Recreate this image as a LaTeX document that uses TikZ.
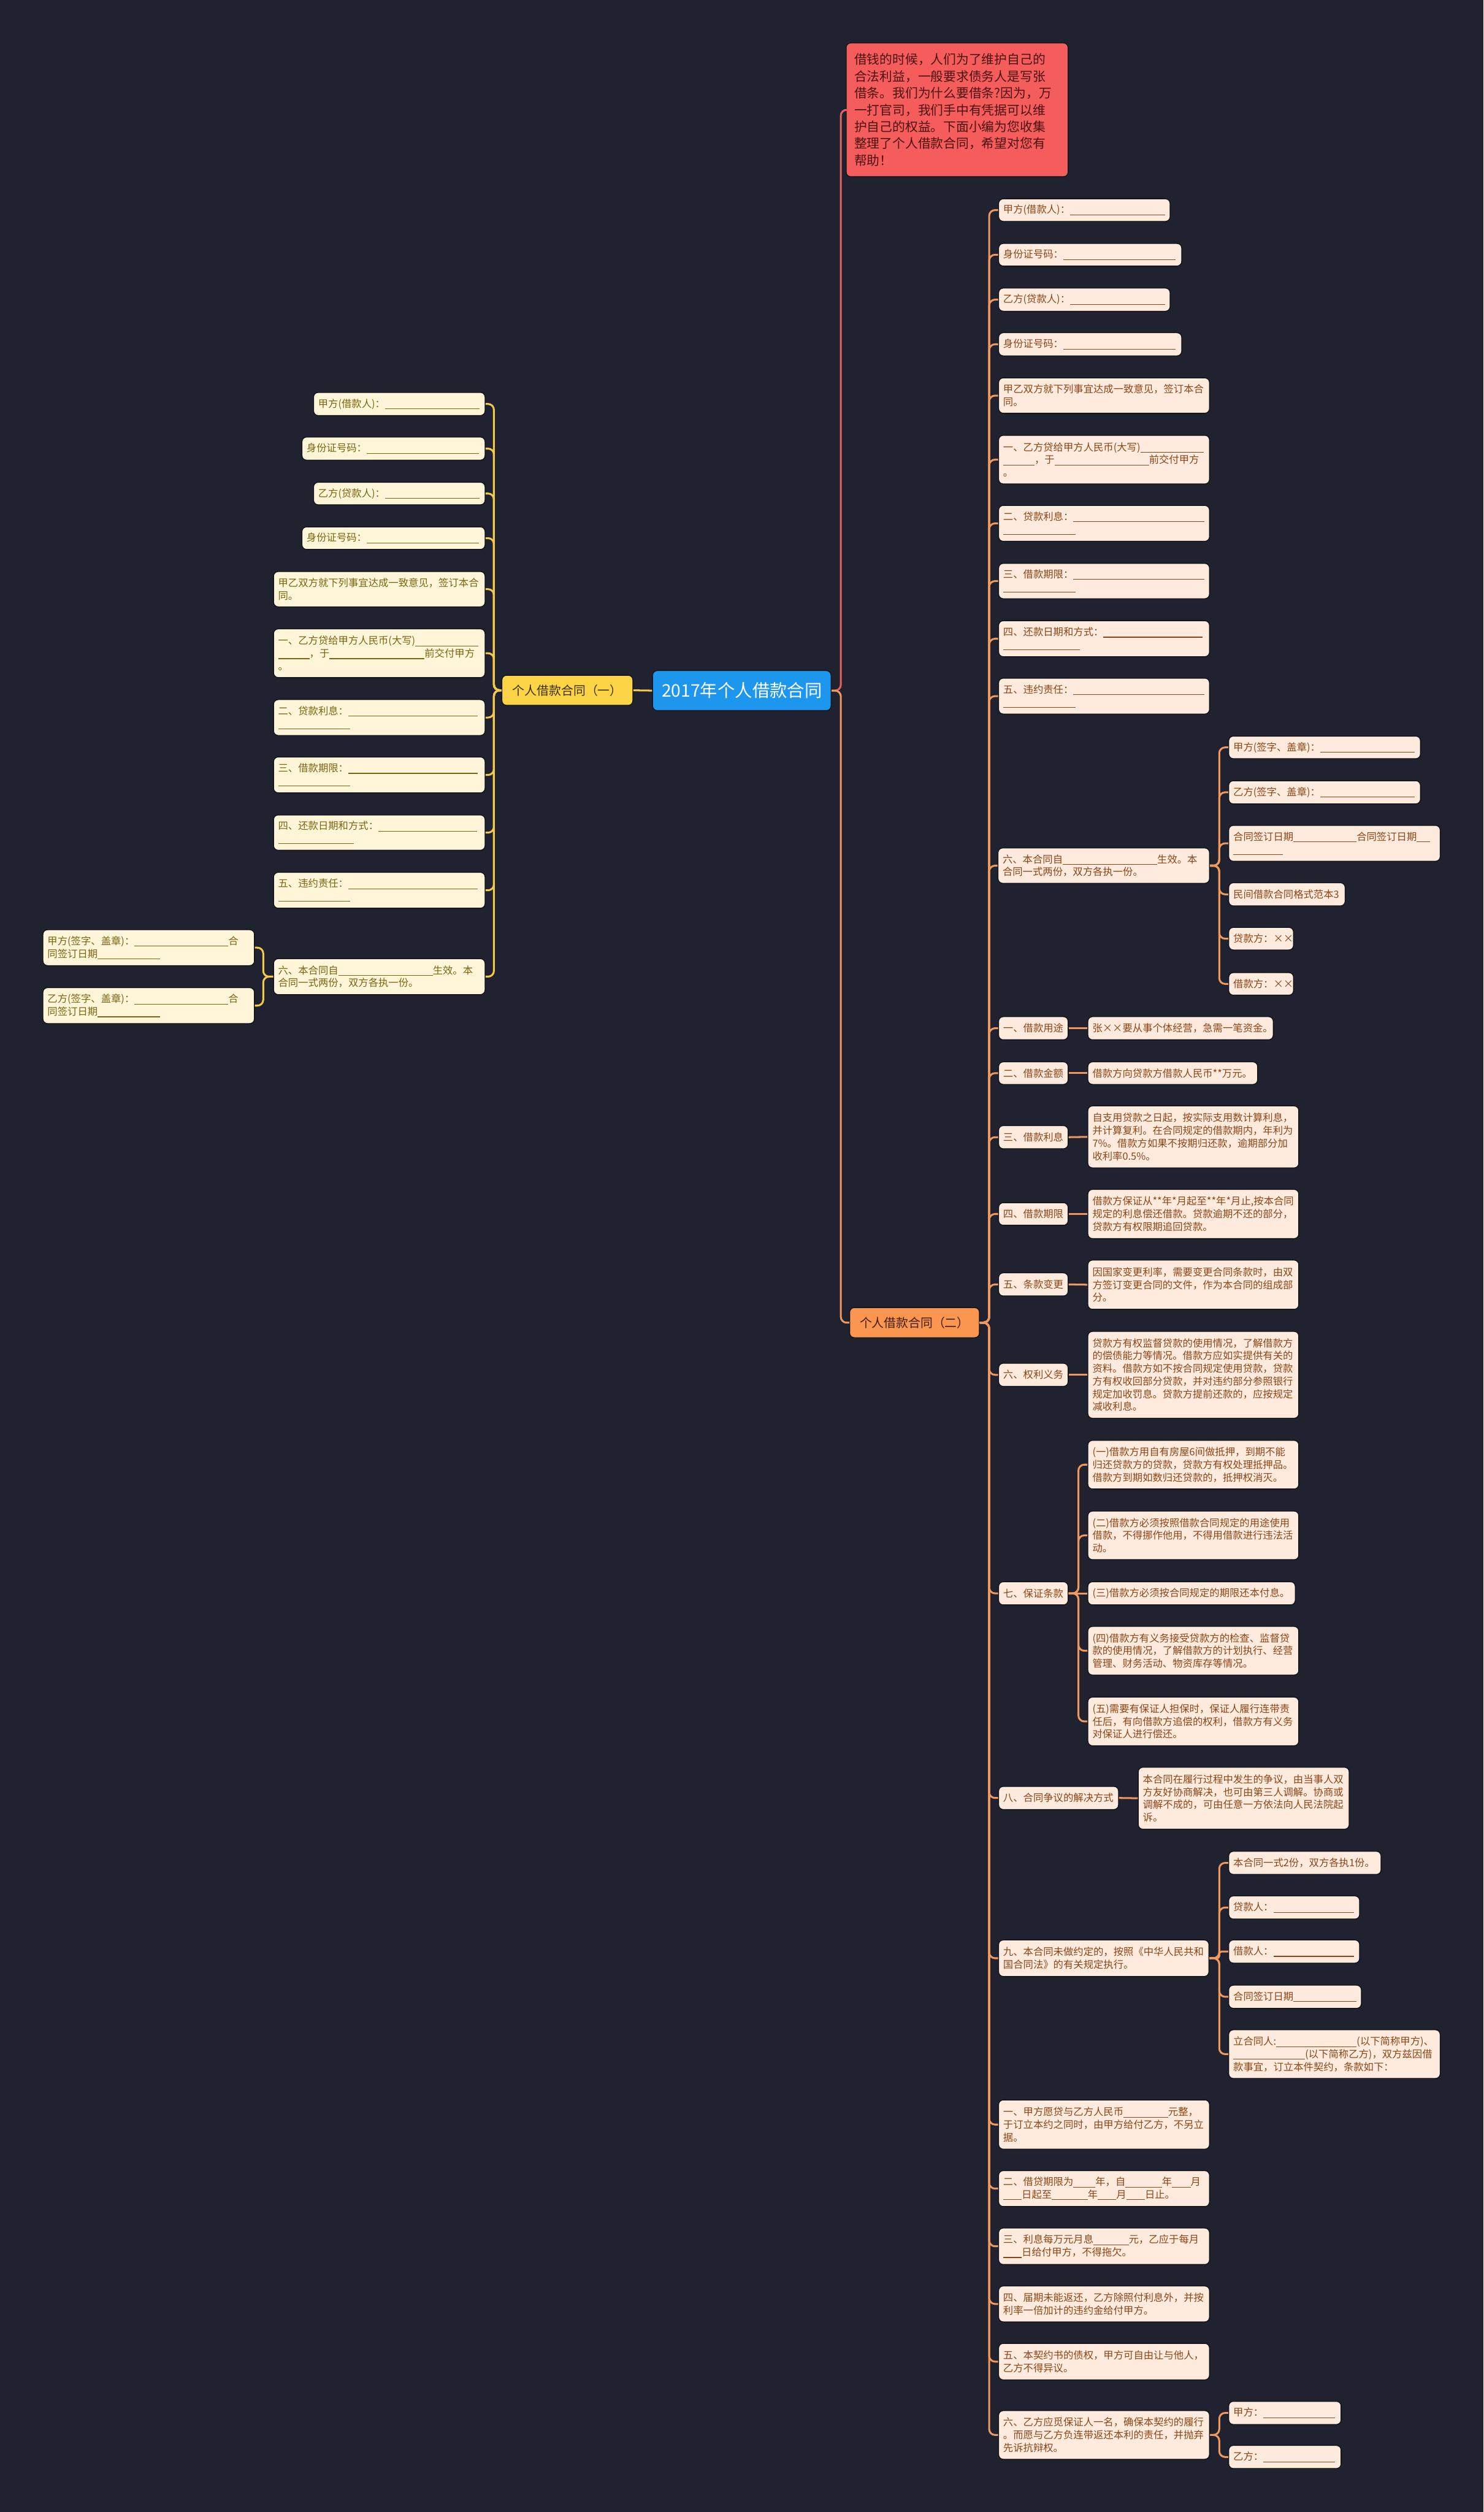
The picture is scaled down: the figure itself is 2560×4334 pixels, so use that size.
\documentclass[tikz,border=0pt]{standalone}
\usepackage{fontspec}
\setmainfont{Noto Sans CJK SC}
\definecolor{bg}{HTML}{20232F}
\definecolor{rootfill}{HTML}{1D97EE}
\definecolor{notefill}{HTML}{F55C5C}
\definecolor{notetext}{HTML}{4A1212}
\definecolor{bonefill}{HTML}{FDD446}
\definecolor{bonetext}{HTML}{3A2E00}
\definecolor{lonefill}{HTML}{FFF6D9}
\definecolor{lonetext}{HTML}{7A6410}
\definecolor{btwofill}{HTML}{FA9650}
\definecolor{btwotext}{HTML}{3D1F05}
\definecolor{ltwofill}{HTML}{FFEBDD}
\definecolor{ltwotext}{HTML}{8A4517}
\definecolor{conone}{HTML}{F3C94A}
\definecolor{contwo}{HTML}{F0995E}
\definecolor{conred}{HTML}{E56262}
\definecolor{edge}{HTML}{13151C}
\newcommand\bl[1]{\rule[-1.6pt]{\dimexpr #1pt/2\relax}{0.6pt}}
\newcommand\mmnode[7]{%
  \pgfmathsetmacro\ndw{(#5-#3)/2}%
  \pgfmathsetmacro\ndh{(#6-#4)/2}%
  \pgfmathsetmacro\ndt{(#5-#3)/2-8}%
  \node[#2, minimum width=\ndw pt, minimum height=\ndh pt, text width=\ndt pt] (#1) at ({(#3+#5)/2},{(#4+#6)/2}) {#7};%
}
\tikzset{
  base/.style={rounded corners=4pt, inner xsep=4pt, inner ysep=2pt, align=left,
    font=\fontsize{8.65}{11}\selectfont, draw=edge, line width=0.8pt},
  rootbox/.style={base, fill=rootfill, text=white, align=center, font=\fontsize{15}{18}\selectfont},
  notebox/.style={base, fill=notefill, text=notetext, inner xsep=7pt, font=\fontsize{11}{14.5}\selectfont},
  bonebox/.style={base, fill=bonefill, text=bonetext, align=center, font=\fontsize{10.5}{13}\selectfont},
  btwobox/.style={base, fill=btwofill, text=btwotext, align=center, font=\fontsize{10.5}{13}\selectfont},
  lone/.style={base, fill=lonefill, text=lonetext},
  ltwo/.style={base, fill=ltwofill, text=ltwotext},
  cone/.style={draw=conone, line width=1.6pt, rounded corners=5pt},
  ctwo/.style={draw=contwo, line width=1.6pt, rounded corners=5pt},
  cred/.style={draw=conred, line width=1.6pt, rounded corners=5pt},
}
\begin{document}
\begin{tikzpicture}[x=0.5pt,y=-0.5pt]
\fill[bg] (0,0) rectangle (2560,4334);
\useasboundingbox (0,0) rectangle (2560,4334);

% main nodes
\mmnode{root}{rootbox}{1126}{1157}{1434}{1226}{2017年个人借款合同}
\mmnode{note}{notebox}{1466}{74}{1837}{305}{借钱的时候，人们为了维护自己的\\合法利益，一般要求债务人是写张\\借条。我们为什么要借条?因为，万\\一打官司，我们手中有凭据可以维\\护自己的权益。下面小编为您收集\\整理了个人借款合同，希望对您有\\帮助！}
\mmnode{bone}{bonebox}{866}{1165}{1092}{1217}{个人借款合同（一）}
\mmnode{btwo}{btwobox}{1466}{2256}{1690}{2308}{个人借款合同（二）}

% left branch
\mmnode{L1}{lone}{541}{677}{837}{717}{甲方(借款人)：\bl{163}}
\mmnode{L2}{lone}{521}{754}{837}{794}{身份证号码：\bl{194}}
\mmnode{L3}{lone}{541}{832}{837}{871}{乙方(贷款人)：\bl{163}}
\mmnode{L4}{lone}{521}{909}{837}{948}{身份证号码：\bl{194}}
\mmnode{L5}{lone}{472}{986}{837}{1047}{甲乙双方就下列事宜达成一致意见，签订本合\\同。}
\mmnode{L6}{lone}{472}{1085}{837}{1169}{一、乙方贷给甲方人民币(大写)\bl{109}\\\bl{54}，于\bl{164}前交付甲方\\。}
\mmnode{L7}{lone}{472}{1207}{837}{1269}{二、贷款利息：\bl{223}\\\bl{124}}
\mmnode{L8}{lone}{472}{1306}{837}{1368}{三、借款期限：\bl{223}\\\bl{124}}
\mmnode{L9}{lone}{472}{1406}{837}{1467}{四、还款日期和方式：\bl{170}\\\bl{131}}
\mmnode{L10}{lone}{472}{1505}{837}{1567}{五、违约责任：\bl{223}\\\bl{124}}
\mmnode{L11}{lone}{472}{1654}{837}{1716}{六、本合同自\bl{163}生效。本\\合同一式两份，双方各执一份。}
\mmnode{L11a}{lone}{74}{1604}{439}{1666}{甲方(签字、盖章)：\bl{162}合\\同签订日期\bl{108}}
\mmnode{L11b}{lone}{74}{1704}{439}{1766}{乙方(签字、盖章)：\bl{162}合\\同签订日期\bl{108}}

% right branch
\mmnode{R1}{ltwo}{1723}{343}{2019}{382}{甲方(借款人)：\bl{164}}
\mmnode{R2}{ltwo}{1723}{420}{2039}{459}{身份证号码：\bl{194}}
\mmnode{R3}{ltwo}{1723}{497}{2019}{537}{乙方(贷款人)：\bl{164}}
\mmnode{R4}{ltwo}{1723}{574}{2039}{614}{身份证号码：\bl{194}}
\mmnode{R5}{ltwo}{1723}{652}{2087}{713}{甲乙双方就下列事宜达成一致意见，签订本合\\同。}
\mmnode{R6}{ltwo}{1723}{751}{2087}{835}{一、乙方贷给甲方人民币(大写)\bl{109}\\\bl{54}，于\bl{163}前交付甲方\\。}
\mmnode{R7}{ltwo}{1723}{872}{2087}{934}{二、贷款利息：\bl{226}\\\bl{125}}
\mmnode{R8}{ltwo}{1723}{972}{2087}{1033}{三、借款期限：\bl{226}\\\bl{125}}
\mmnode{R9}{ltwo}{1723}{1071}{2087}{1133}{四、还款日期和方式：\bl{171}\\\bl{132}}
\mmnode{R10}{ltwo}{1723}{1170}{2087}{1232}{五、违约责任：\bl{226}\\\bl{125}}
\mmnode{R11}{ltwo}{1722}{1463}{2087}{1524}{六、本合同自\bl{163}生效。本\\合同一式两份，双方各执一份。}
\mmnode{R11a}{ltwo}{2120}{1270}{2451}{1309}{甲方(签字、盖章)：\bl{163}}
\mmnode{R11b}{ltwo}{2120}{1347}{2451}{1387}{乙方(签字、盖章)：\bl{163}}
\mmnode{R11c}{ltwo}{2120}{1424}{2485}{1486}{合同签订日期\bl{109}合同签订日期\bl{23}\\\bl{85}}
\mmnode{R11d}{ltwo}{2120}{1523}{2321}{1563}{民间借款合同格式范本3}
\mmnode{R11e}{ltwo}{2120}{1600}{2232}{1639}{贷款方：××}
\mmnode{R11f}{ltwo}{2120}{1678}{2232}{1717}{借款方：××}
\mmnode{R12}{ltwo}{1723}{1754}{1843}{1794}{一、借款用途}
\mmnode{R12a}{ltwo}{1877}{1754}{2197}{1794}{张××要从事个体经营，急需一笔资金。}
\mmnode{R13}{ltwo}{1723}{1832}{1843}{1871}{二、借款金额}
\mmnode{R13a}{ltwo}{1877}{1832}{2170}{1871}{借款方向贷款方借款人民币**万元。}
\mmnode{R14}{ltwo}{1723}{1942}{1843}{1982}{三、借款利息}
\mmnode{R14a}{ltwo}{1877}{1908}{2241}{2015}{自支用贷款之日起，按实际支用数计算利息，\\并计算复利。在合同规定的借款期内，年利为\\7\%。借款方如果不按期归还款，逾期部分加\\收利率0.5\%。}
\mmnode{R15}{ltwo}{1723}{2075}{1843}{2114}{四、借款期限}
\mmnode{R15a}{ltwo}{1877}{2052}{2241}{2137}{借款方保证从**年*月起至**年*月止,按本合同\\规定的利息偿还借款。贷款逾期不还的部分，\\贷款方有权限期追回贷款。}
\mmnode{R16}{ltwo}{1723}{2196}{1843}{2236}{五、条款变更}
\mmnode{R16a}{ltwo}{1877}{2174}{2241}{2259}{因国家变更利率，需要变更合同条款时，由双\\方签订变更合同的文件，作为本合同的组成部\\分。}
\mmnode{R17}{ltwo}{1723}{2352}{1843}{2392}{六、权利义务}
\mmnode{R17a}{ltwo}{1877}{2297}{2241}{2447}{贷款方有权监督贷款的使用情况，了解借款方\\的偿债能力等情况。借款方应如实提供有关的\\资料。借款方如不按合同规定使用贷款，贷款\\方有权收回部分贷款，并对违约部分参照银行\\规定加收罚息。贷款方提前还款的，应按规定\\减收利息。}
\mmnode{R18}{ltwo}{1723}{2729}{1843}{2769}{七、保证条款}
\mmnode{R18a}{ltwo}{1877}{2485}{2241}{2569}{(一)借款方用自有房屋6间做抵押，到期不能\\归还贷款方的贷款，贷款方有权处理抵押品。\\借款方到期如数归还贷款的，抵押权消灭。}
\mmnode{R18b}{ltwo}{1877}{2607}{2241}{2691}{(二)借款方必须按照借款合同规定的用途使用\\借款，不得挪作他用，不得用借款进行违法活\\动。}
\mmnode{R18c}{ltwo}{1877}{2729}{2235}{2769}{(三)借款方必须按合同规定的期限还本付息。}
\mmnode{R18d}{ltwo}{1877}{2806}{2241}{2890}{(四)借款方有义务接受贷款方的检查、监督贷\\款的使用情况，了解借款方的计划执行、经营\\管理、财务活动、物资库存等情况。}
\mmnode{R18e}{ltwo}{1877}{2928}{2241}{3012}{(五)需要有保证人担保时，保证人履行连带责\\任后，有向借款方追偿的权利，借款方有义务\\对保证人进行偿还。}
\mmnode{R19}{ltwo}{1723}{3082}{1930}{3122}{八、合同争议的解决方式}
\mmnode{R19a}{ltwo}{1964}{3049}{2328}{3156}{本合同在履行过程中发生的争议，由当事人双\\方友好协商解决，也可由第三人调解。协商或\\调解不成的，可由任意一方依法向人民法院起\\诉。}
\mmnode{R20}{ltwo}{1723}{3347}{2086}{3410}{九、本合同未做约定的，按照《中华人民共和\\国合同法》的有关规定执行。}
\mmnode{R20a}{ltwo}{2120}{3194}{2383}{3234}{本合同一式2份，双方各执1份。}
\mmnode{R20b}{ltwo}{2120}{3271}{2346}{3311}{贷款人：\bl{139}}
\mmnode{R20c}{ltwo}{2120}{3347}{2346}{3387}{借款人：\bl{139}}
\mmnode{R20d}{ltwo}{2120}{3425}{2349}{3465}{合同签订日期\bl{109}}
\mmnode{R20e}{ltwo}{2120}{3502}{2485}{3586}{立合同人:\bl{139}(以下简称甲方)、\\\bl{124}(以下简称乙方)，双方兹因借\\款事宜，订立本件契约，条款如下：}
\mmnode{R21}{ltwo}{1723}{3623}{2087}{3708}{一、甲方愿贷与乙方人民币\bl{77}元整，\\于订立本约之同时，由甲方给付乙方，不另立\\据。}
\mmnode{R22}{ltwo}{1723}{3745}{2087}{3807}{二、借贷期限为\bl{38}年，自\bl{63}年\bl{32}月\\\bl{32}日起至\bl{62}年\bl{32}月\bl{32}日止。}
\mmnode{R23}{ltwo}{1723}{3844}{2087}{3907}{三、利息每万元月息\bl{61}元，乙应于每月\\\bl{32}日给付甲方，不得拖欠。}
\mmnode{R24}{ltwo}{1723}{3944}{2087}{4006}{四、届期未能返还，乙方除照付利息外，并按\\利率一倍加计的违约金给付甲方。}
\mmnode{R25}{ltwo}{1723}{4043}{2087}{4106}{五、本契约书的债权，甲方可自由让与他人，\\乙方不得异议。}
\mmnode{R26}{ltwo}{1723}{4159}{2087}{4243}{六、乙方应觅保证人一名，确保本契约的履行\\。而愿与乙方负连带返还本利的责任，并抛弃\\先诉抗辩权。}
\mmnode{R26a}{ltwo}{2120}{4143}{2314}{4183}{甲方：\bl{124}}
\mmnode{R26b}{ltwo}{2120}{4219}{2314}{4259}{乙方：\bl{124}}

% connectors
\draw[cone] (root.west) -- (bone.east);
\draw[cred] (root.east) -- ++(16,0) |- (note.west);
\draw[ctwo] (root.east) -- ++(16,0) |- (btwo.west);
\foreach \n in {L1,L2,L3,L4,L5,L6,L7,L8,L9,L10,L11}
  \draw[cone] (bone.west) -- ++(-13,0) |- (\n.east);
\foreach \n in {L11a,L11b}
  \draw[cone] (L11.west) -- ++(-17,0) |- (\n.east);
\foreach \n in {R1,R2,R3,R4,R5,R6,R7,R8,R9,R10,R11,R12,R13,R14,R15,R16,R17,R18,R19,R20,R21,R22,R23,R24,R25,R26}
  \draw[ctwo] (btwo.east) -- ++(16,0) |- (\n.west);
\foreach \n in {R11a,R11b,R11c,R11d,R11e,R11f}
  \draw[ctwo] (R11.east) -- ++(16,0) |- (\n.west);
\draw[ctwo] (R12.east) -- (R12a.west);
\draw[ctwo] (R13.east) -- (R13a.west);
\draw[ctwo] (R14.east) -- (R14a.west);
\draw[ctwo] (R15.east) -- (R15a.west);
\draw[ctwo] (R16.east) -- (R16a.west);
\draw[ctwo] (R17.east) -- (R17a.west);
\foreach \n in {R18a,R18b,R18d,R18e}
  \draw[ctwo] (R18.east) -- ++(17,0) |- (\n.west);
\draw[ctwo] (R18.east) -- (R18c.west);
\draw[ctwo] (R19.east) -- (R19a.west);
\foreach \n in {R20a,R20b,R20d,R20e}
  \draw[ctwo] (R20.east) -- ++(17,0) |- (\n.west);
\draw[ctwo, rounded corners=2pt] (R20.east) -- ++(17,0) |- (R20c.west);
\foreach \n in {R26a,R26b}
  \draw[ctwo] (R26.east) -- ++(16,0) |- (\n.west);
\end{tikzpicture}
\end{document}
